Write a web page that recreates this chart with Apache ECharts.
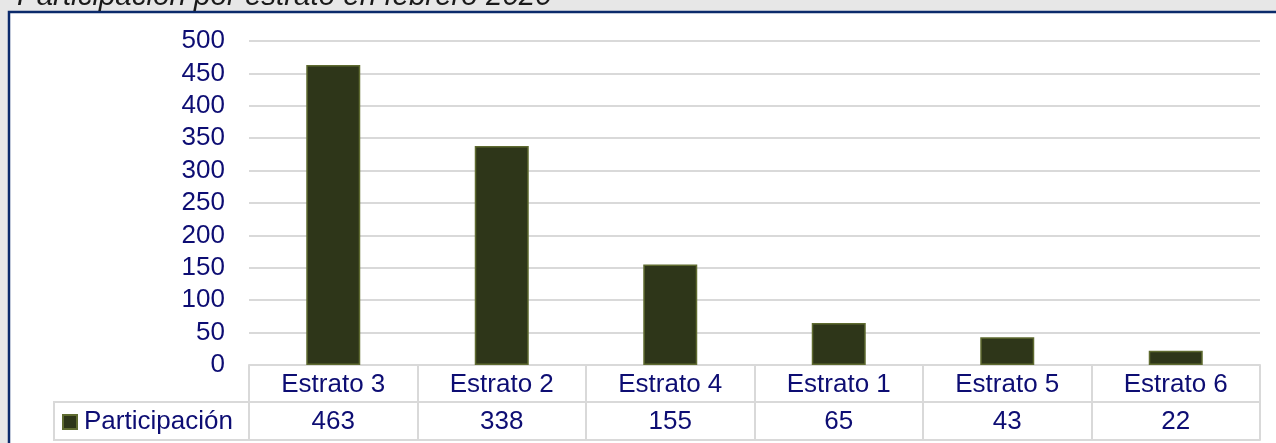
<!DOCTYPE html>
<html>
<head>
<meta charset="utf-8">
<script src="https://cdn.jsdelivr.net/npm/echarts@6/dist/echarts.min.js"></script>
<style>
html,body{margin:0;padding:0;background:#e7e7e7;}
#chart{width:1276px;height:443px;}
</style>
</head>
<body>
<div id="chart"></div>
<script>
const titleText = 'Participación por estrato en febrero 2020';
const seriesName = 'Participación';
const categories = ['Estrato 3', 'Estrato 2', 'Estrato 4', 'Estrato 1', 'Estrato 5', 'Estrato 6'];
const values = [463, 338, 155, 65, 43, 22];
const yTicks = { min: 0, max: 500, interval: 50 };

const FONT = '"Liberation Sans", Arial, sans-serif';
const NAVY = '#0d0d73';
const GRID = '#d9d9d9';
const FS = 26;

const chart = echarts.init(document.getElementById('chart'), null, { renderer: 'canvas' });
chart.setOption({
  backgroundColor: '#e7e7e7',
  animation: false,
  title: {
    text: titleText,
    left: 17,
    top: -18,
    padding: 0,
    textStyle: { fontFamily: FONT, fontSize: 29.5, fontStyle: 'italic', fontWeight: 'normal', color: '#1a1a1a' }
  },
  graphic: [
    { type: 'rect', z: -10, shape: { x: 9, y: 12, width: 1300, height: 500 },
      style: { fill: '#ffffff', stroke: '#0b2a6b', lineWidth: 2.5 } },
    { type: 'polyline', z: 5, shape: { points: [[249, 402], [54, 402], [54, 440], [249, 440]] },
      style: { stroke: GRID, lineWidth: 2, fill: null } }
  ],
  legend: {
    data: [seriesName],
    left: 62,
    top: 409,
    icon: 'rect',
    itemWidth: 14,
    itemHeight: 14,
    itemGap: 0,
    textStyle: { fontFamily: FONT, fontSize: FS, color: NAVY, padding: [0, 0, 0, 2] },
    padding: 0
  },
  grid: { left: 249, right: 16, top: 41, bottom: 78, containLabel: false },
  xAxis: [
    {
      type: 'category', data: categories, position: 'bottom',
      axisLine: { show: true, lineStyle: { color: GRID, width: 2 } },
      axisTick: { show: true, interval: 0, length: 75, lineStyle: { color: GRID, width: 2 } },
      axisLabel: { interval: 0, margin: 7, fontFamily: FONT, fontSize: FS, color: NAVY }
    },
    {
      type: 'category', data: values.map(String), position: 'bottom', offset: 37,
      axisLine: { show: true, lineStyle: { color: GRID, width: 2 } },
      axisTick: { show: false },
      axisLabel: { interval: 0, margin: 7, fontFamily: FONT, fontSize: FS, color: NAVY }
    },
    {
      type: 'category', data: categories, position: 'bottom', offset: 75,
      axisLine: { show: true, lineStyle: { color: GRID, width: 2 } },
      axisTick: { show: false },
      axisLabel: { show: false }
    }
  ],
  yAxis: {
    type: 'value', min: yTicks.min, max: yTicks.max, interval: yTicks.interval,
    axisLine: { show: false }, axisTick: { show: false },
    splitLine: { show: true, lineStyle: { color: GRID, width: 2 } },
    axisLabel: { margin: 24, padding: [3, 0, 0, 0], fontFamily: FONT, fontSize: FS, color: NAVY }
  },
  series: [{
    name: seriesName,
    type: 'bar',
    xAxisIndex: 0,
    data: values,
    barWidth: 54,
    itemStyle: { color: '#2e3619', borderColor: '#5f6b30', borderWidth: 1.5 }
  }]
});
</script>
</body>
</html>
